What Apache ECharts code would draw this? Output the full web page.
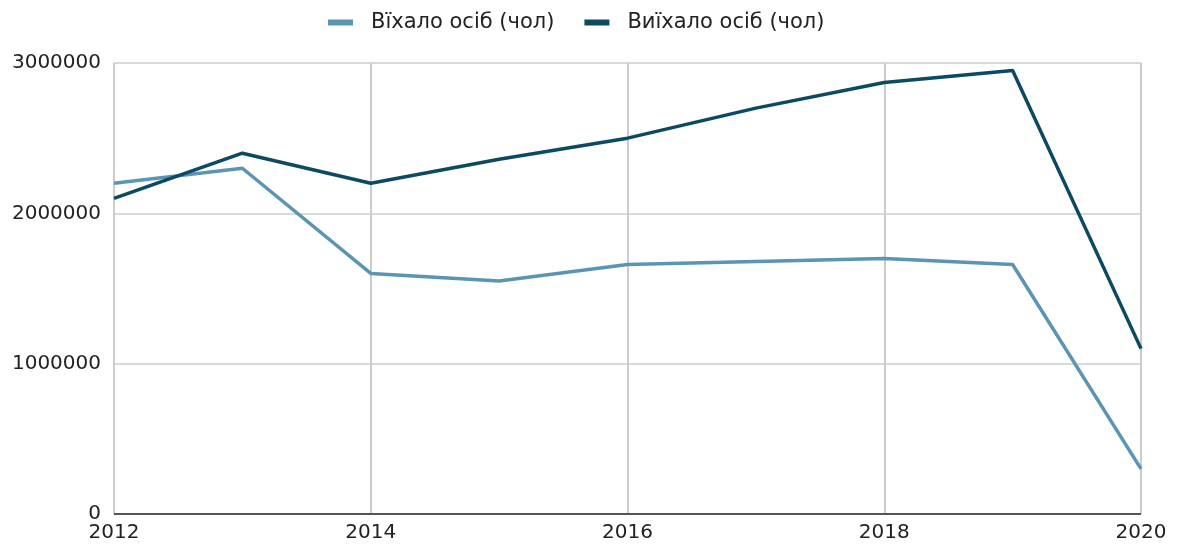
<!DOCTYPE html>
<html>
<head>
<meta charset="utf-8">
<script src="https://cdn.jsdelivr.net/npm/echarts@6/dist/echarts.min.js"></script>
<style>
  html, body { margin: 0; padding: 0; background: #fff; }
  #chart { width: 1178px; height: 544px; }
</style>
</head>
<body>
<div id="chart"></div>
<script>
let years = [2012, 2013, 2014, 2015, 2016, 2017, 2018, 2019, 2020];
let arrived = [2200000, 2300000, 1600000, 1550000, 1660000, 1680000, 1700000, 1660000, 300000];
let departed = [2100000, 2400000, 2200000, 2360000, 2500000, 2700000, 2870000, 2950000, 1100000];
let seriesNames = ['Вїхало осіб (чол)', 'Виїхало осіб (чол)'];

let colorList = ['#5a95b4', '#0b4a63'];
let font = '"DejaVu Sans", sans-serif';

function pairs(vals) {
  return years.map((y, i) => [y, vals[i]]);
}

let option = {
  color: colorList,
  animation: false,
  legend: {
    top: 7,
    left: 323,
    itemWidth: 25,
    itemHeight: 6,
    itemGap: 30,
    icon: 'rect',
    textStyle: { fontFamily: font, fontSize: 21, color: '#222', padding: [0, 0, 0, 13] },
    data: seriesNames
  },
  grid: { left: 114, right: 37, top: 63, bottom: 30 },
  xAxis: {
    type: 'value',
    min: 2012,
    max: 2020,
    interval: 2,
    axisLine: { show: false },
    axisTick: { show: false },
    axisLabel: {
      fontFamily: font, fontSize: 20, color: '#222', margin: 9,
      formatter: v => String(v)
    },
    splitLine: { show: true, lineStyle: { color: '#cccccc', width: 2 } }
  },
  yAxis: {
    type: 'value',
    min: 0,
    max: 3000000,
    interval: 1000000,
    axisLine: { show: false },
    axisTick: { show: false },
    axisLabel: {
      fontFamily: font, fontSize: 20, color: '#222', margin: 13,
      formatter: v => String(v)
    },
    splitLine: { show: true, lineStyle: { color: '#cccccc', width: 1.5 } }
  },
  series: [
    {
      name: seriesNames[0],
      type: 'line',
      data: pairs(arrived),
      symbol: 'none',
      lineStyle: { width: 3.5 }
    },
    {
      name: seriesNames[1],
      type: 'line',
      data: pairs(departed),
      symbol: 'none',
      lineStyle: { width: 3.5 },
      markLine: {
        silent: true,
        symbol: 'none',
        label: { show: false },
        lineStyle: { color: '#555', width: 2, type: 'solid' },
        data: [{ yAxis: 0 }]
      }
    }
  ]
};

var chart = echarts.init(document.getElementById('chart'));
chart.setOption(option);
</script>
</body>
</html>
